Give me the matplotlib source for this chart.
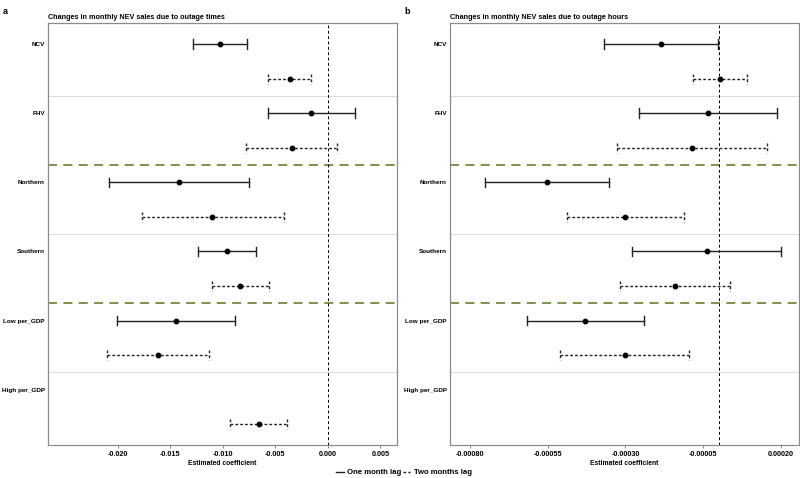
import numpy as np
import matplotlib.pyplot as plt
from matplotlib.lines import Line2D

plt.rcParams['font.family'] = ['Liberation Sans', 'DejaVu Sans']
plt.rcParams['font.weight'] = 'bold'

groups = ['NCV', 'FHV', 'Northern', 'Southern', 'Low per_GDP', 'High per_GDP']

# panel a: outage times (estimate, lower, upper)
a_one_est = [-0.01029, -0.00159, -0.01422, -0.00965, -0.01444, np.nan]
a_one_lo = [-0.01289, -0.00574, -0.02089, -0.01241, -0.02006, np.nan]
a_one_hi = [-0.00769, 0.00257, -0.00752, -0.00686, -0.00883, np.nan]
a_two_est = [-0.00365, -0.00346, -0.01102, -0.00835, -0.01616, -0.00660]
a_two_lo = [-0.00574, -0.00784, -0.01775, -0.01102, -0.02101, -0.00933]
a_two_hi = [-0.00159, 0.00089, -0.00422, -0.00565, -0.01133, -0.00387]

# panel b: outage hours
b_one_est = [-0.000186, -0.0000353, -0.000553, -0.0000396, -0.000430, np.nan]
b_one_lo = [-0.000370, -0.000257, -0.000751, -0.000280, -0.000617, np.nan]
b_one_hi = [-0.0000022, 0.000187, -0.000353, 0.000201, -0.000242, np.nan]
b_two_est = [0.0000022, -0.0000868, -0.000300, -0.000142, -0.000302, np.nan]
b_two_lo = [-0.0000835, -0.000328, -0.000488, -0.000319, -0.000511, np.nan]
b_two_hi = [0.0000900, 0.000154, -0.000113, 0.0000364, -0.0000954, np.nan]

a_ticks = [-0.020, -0.015, -0.010, -0.005, 0.000, 0.005]
a_ticklabels = ['-0.020', '-0.015', '-0.010', '-0.005', '0.000', '0.005']
b_ticks = [-0.00080, -0.00055, -0.00030, -0.00005, 0.00020]
b_ticklabels = ['-0.00080', '-0.00055', '-0.00030', '-0.00005', '0.00020']

fig = plt.figure(figsize=(8, 4.78), dpi=100)
ax_a = fig.add_axes([0.06, 0.069, 0.436, 0.882])
ax_b = fig.add_axes([0.5625, 0.069, 0.436, 0.882])


def draw_panel(ax, one, two, xlim, ticks, ticklabels, title):
    n = len(groups)
    pos_one = np.arange(n) * 2 + 1
    pos_two = pos_one + 1
    for k in range(n):
        for est, lo, hi, y, ls in [(one[0][k], one[1][k], one[2][k], pos_one[k], '-'),
                                   (two[0][k], two[1][k], two[2][k], pos_two[k], (0, (2, 1.5)))]:
            if np.isnan(est):
                continue
            ax.plot([lo, hi], [y, y], color='#222222', lw=1.0, ls=ls, zorder=3)
            for cx in (lo, hi):
                ax.plot([cx, cx], [y - 0.14, y + 0.14], color='#222222', lw=1.0, ls=ls, zorder=3)
            ax.plot(est, y, 'o', color='black', ms=3.2, zorder=4)
    # separators
    for yy in [2.5, 6.5, 10.5]:
        ax.axhline(yy, color='#d4d4d4', lw=0.6, zorder=1)
    for yy in [4.5, 8.5]:
        ax.axhline(yy, color='#6e8b3d', lw=1.3, ls=(0, (5, 3.5)), zorder=2)
    ax.axvline(0, color='black', lw=0.7, ls=(0, (3, 2.5)), zorder=2)
    ax.set_ylim(12.6, 0.4)
    ax.set_xlim(*xlim)
    ax.set_yticks(pos_one)
    ax.set_yticklabels(groups, fontsize=4.6, fontweight='bold')
    ax.tick_params(axis='y', length=0, pad=2.2)
    ax.set_xticks(ticks)
    ax.set_xticklabels(ticklabels, fontsize=5.2, fontweight='bold')
    ax.tick_params(axis='x', length=2, width=0.5, color='#555555', pad=2)
    ax.set_xlabel('Estimated coefficient', fontsize=4.9, fontweight='bold', labelpad=2)
    ax.set_title(title, fontsize=5.2, fontweight='bold', loc='left', pad=3.5)
    for s in ax.spines.values():
        s.set_color('#8c8c8c')
        s.set_linewidth(0.9)


draw_panel(ax_a, (a_one_est, a_one_lo, a_one_hi), (a_two_est, a_two_lo, a_two_hi),
           (-0.02667, 0.00657), a_ticks, a_ticklabels,
           'Changes in monthly NEV sales due to outage times')
draw_panel(ax_b, (b_one_est, b_one_lo, b_one_hi), (b_two_est, b_two_lo, b_two_hi),
           (-0.000864, 0.000257), b_ticks, b_ticklabels,
           'Changes in monthly NEV sales due to outage hours')

fig.text(0.004, 0.985, 'a', fontsize=6.5, fontweight='bold', va='top')
fig.text(0.505, 0.985, 'b', fontsize=6.5, fontweight='bold', va='top')

handles = [Line2D([], [], color='#222222', lw=1.0, ls='-'),
           Line2D([], [], color='#222222', lw=1.0, ls=(0, (2, 1.5)))]
fig.legend(handles, ['One month lag', 'Two months lag'], loc='center',
           bbox_to_anchor=(0.505, 0.011), ncol=2, frameon=False,
           prop={'size': 5.6, 'weight': 'bold'}, handlelength=1.0,
           handletextpad=0.5, columnspacing=0.1)

fig.savefig('out.png', dpi=100)
